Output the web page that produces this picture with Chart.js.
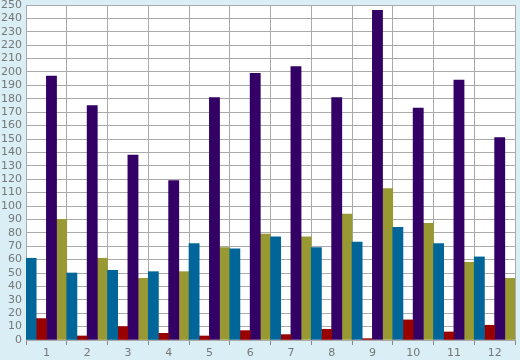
<!DOCTYPE html>
<html>
<head>
<meta charset="utf-8">
<script src="https://cdn.jsdelivr.net/npm/chart.js@4/dist/chart.umd.min.js"></script>
<style>
  html, body { margin: 0; padding: 0; background: #d9eef5; }
  #wrap { width: 520px; height: 360px; }
</style>
</head>
<body>
<div id="wrap"><canvas id="c" width="520" height="360"></canvas></div>
<script>
const categories = ["1","2","3","4","5","6","7","8","9","10","11","12"];
const blueValues   = [61, 50, 52, 51, 72, 68, 77, 69, 73, 84, 72, 62];
const redValues    = [16, 3, 10, 5, 3, 7, 4, 8, 1, 15, 6, 11];
const purpleValues = [197, 175, 138, 119, 181, 199, 204, 181, 246, 173, 194, 151];
const oliveValues  = [90, 61, 46, 51, 69, 79, 77, 94, 113, 87, 58, 46];
const yMin = 0, yMax = 250, yStep = 10;

const bgPlugin = {
  id: 'bg',
  beforeDraw(chart) {
    const ctx = chart.ctx, a = chart.chartArea;
    ctx.save();
    ctx.fillStyle = '#d9eef5';
    ctx.fillRect(0, 0, chart.width, chart.height);
    ctx.fillStyle = '#ffffff';
    ctx.fillRect(a.left, a.top, a.right - a.left, a.bottom - a.top);
    ctx.restore();
  }
};

new Chart(document.getElementById('c'), {
  type: 'bar',
  data: {
    labels: categories,
    datasets: [
      { data: blueValues, backgroundColor: '#006699' },
      { data: redValues, backgroundColor: '#990000' },
      { data: purpleValues, backgroundColor: '#330066' },
      { data: oliveValues, backgroundColor: '#999933' }
    ]
  },
  options: {
    responsive: false,
    animation: false,
    devicePixelRatio: 1,
    layout: { padding: { top: 0, right: 5, left: 0, bottom: 0 } },
    plugins: { legend: { display: false }, tooltip: { enabled: false } },
    datasets: { bar: { barPercentage: 1, categoryPercentage: 1 } },
    scales: {
      x: {
        grid: { color: '#aaaaaa', lineWidth: 1, offset: true, drawTicks: true, tickLength: 5, tickColor: '#888888' },
        border: { color: '#aaaaaa' },
        ticks: { color: '#777777', font: { family: 'DejaVu Sans', size: 11 }, padding: 2, maxRotation: 0 },
        afterFit(s) { s.height = 20; }
      },
      y: {
        min: yMin, max: yMax,
        grid: { color: '#aaaaaa', lineWidth: 1, drawTicks: false },
        border: { color: '#aaaaaa' },
        ticks: { stepSize: yStep, autoSkip: false, color: '#777777', font: { family: 'DejaVu Sans', size: 11, lineHeight: 0.8 }, padding: 4 },
        afterFit(s) { s.width = 26; s.paddingTop = 5; }
      }
    }
  },
  plugins: [bgPlugin]
});
</script>
</body>
</html>
